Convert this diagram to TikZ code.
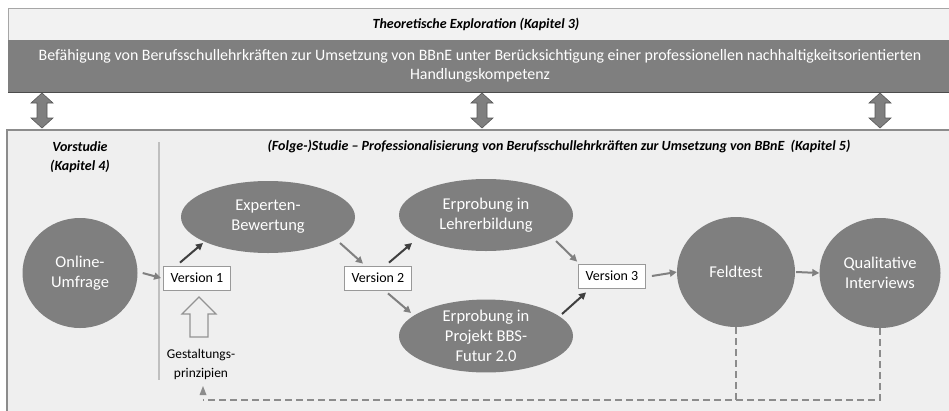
\documentclass[tikz,border=0pt]{standalone}
\usepackage{fontspec}
\setmainfont{Carlito}
\usetikzlibrary{arrows.meta,shapes.geometric,calc}
\definecolor{darkfill}{HTML}{7F7F7F}
\definecolor{bandlight}{HTML}{F2F2F2}
\definecolor{boxbg}{HTML}{EFEFEF}
\definecolor{darkarrow}{HTML}{3F3F3F}
\definecolor{lightarrow}{HTML}{808080}
\definecolor{sepline}{HTML}{BFBFBF}
\tikzset{
  blob/.style={ellipse, fill=darkfill, text=white, align=center, font=\fontsize{16.5}{20}\selectfont, inner sep=0pt},
  verbox/.style={draw=gray!80, fill=white, font=\fontsize{14}{16}\selectfont, minimum width=67pt, minimum height=24pt, inner sep=0pt, line width=0.8pt},
  darr/.style={-{Triangle[length=7pt,width=7pt]}, line width=2pt, draw=darkarrow},
  larr/.style={-{Triangle[length=7pt,width=7pt]}, line width=2pt, draw=lightarrow},
  titletext/.style={font=\fontsize{14}{19}\selectfont\bfseries\itshape},
  dblarrow/.style={fill=darkfill, draw=gray!70!black, line width=0.6pt},
  dashline/.style={dashed, dash pattern=on 7pt off 4pt, line width=2pt, draw=gray!90},
}
\begin{document}
\begin{tikzpicture}[x=1pt,y=-1pt]
\useasboundingbox (0,0) rectangle (949,410);
\fill[white] (0,0) rectangle (949,410);
% top bands
\fill[bandlight] (8,8) rectangle (949,40);
\draw[gray!70, line width=0.6pt] (8,40) -- (8,8) -- (949,8);
\node[titletext] (theo) at (476,24) {Theoretische Exploration (Kapitel 3)};
\fill[darkfill] (8,40) rectangle (949,92);
\draw[gray!60!black, line width=0.8pt] (8,92) -- (949,92);
\node[text=white, align=center, font=\fontsize{15.9}{19}\selectfont] (band) at (480,66) {Befähigung von Berufsschullehrkräften zur Umsetzung von BBnE unter Berücksichtigung einer professionellen nachhaltigkeitsorientierten\\Handlungskompetenz};
% double arrows
\foreach \xx/\nm in {42/da1,482/da2,880/da3}{
  \draw[dblarrow] (\xx,93) -- (\xx+11,103) -- (\xx+5,103) -- (\xx+5,118) -- (\xx+11,118) -- (\xx,128) -- (\xx-11,118) -- (\xx-5,118) -- (\xx-5,103) -- (\xx-11,103) -- cycle;
  \coordinate (\nm) at (\xx,110);
}
% lower box
\fill[boxbg] (7,130) rectangle (955,415);
\draw[gray!90, line width=1.2pt] (7,415) -- (7,130) -- (955,130);
\draw[sepline, line width=2.5pt] (159,142) -- (159,380);
\node[titletext, align=center] (vor) at (80,157) {Vorstudie\\(Kapitel 4)};
\node[titletext] (folge) at (559,146) {(Folge-)Studie -- Professionalisierung von Berufsschullehrkräften zur Umsetzung von BBnE\ \ (Kapitel 5)};
% nodes
\node[blob, minimum width=115pt, minimum height=110pt] (online) at (80,273) {Online-\\Umfrage};
\node[verbox] (v1) at (197,278) {Version 1};
\node[blob, minimum width=174pt, minimum height=72pt] (exp) at (268,217) {Experten-\\Bewertung};
\node[verbox] (v2) at (378,278) {Version 2};
\node[blob, minimum width=174pt, minimum height=72pt] (lehr) at (486,215) {Erprobung in\\Lehrerbildung};
\node[blob, minimum width=174pt, minimum height=72pt] (proj) at (486,336) {Erprobung in\\Projekt BBS-\\Futur 2.0};
\node[verbox] (v3) at (612,276) {Version 3};
\node[blob, minimum width=118pt, minimum height=110pt] (feld) at (736,272) {Feldtest};
\node[blob, minimum width=121pt, minimum height=110pt] (qual) at (880,273) {Qualitative\\Interviews};
\node[align=center, font=\fontsize{13.4}{19}\selectfont] (gest) at (201,364) {Gestaltungs-\\prinzipien};
% hollow arrow
\draw[gray!85, fill=boxbg, line width=1.2pt] (199,297) -- (216,314) -- (208,314) -- (208,337) -- (190,337) -- (190,314) -- (182,314) -- cycle;
\coordinate (hollowtip) at (199,297);
% arrows
\draw[larr] ($(online.east)+(5,0)$) -- ($(v1.west)+(-2,0)$);
\draw[darr] ($(v1.north)+(-17,-3)$) -- ($(exp.center)+(-65,26)$);
\draw[larr] ($(exp.center)+(72,26)$) -- ($(v2.north)+(-15,-2)$);
\draw[darr] ($(v2.north)+(11,-3)$) -- ($(lehr.center)+(-74,28)$);
\draw[larr] ($(v2.south)+(10,3)$) -- ($(proj.center)+(-75,-23)$);
\draw[larr] ($(lehr.center)+(70,26)$) -- ($(v3.north west)+(-1,-2)$);
\draw[darr] ($(proj.center)+(76,-22)$) -- ($(v3.south west)+(8,4)$);
\draw[larr] ($(v3.east)+(6,0)$) -- (feld.west);
\draw[larr] ($(feld.east)+(1,0)$) -- (qual.west);
% dashed feedback
\coordinate (dcorner) at (880,400);
\coordinate (dleft) at (203,400);
\draw[dashline] (feld.south) -- (feld.south |- dcorner);
\draw[dashline] (qual.south) -- (dcorner) -- (dleft);
\fill[gray!90] (203,386) -- (206.5,395) -- (199.5,395) -- cycle;
\coordinate (dtip) at (203,386);
\end{tikzpicture}
\end{document}
